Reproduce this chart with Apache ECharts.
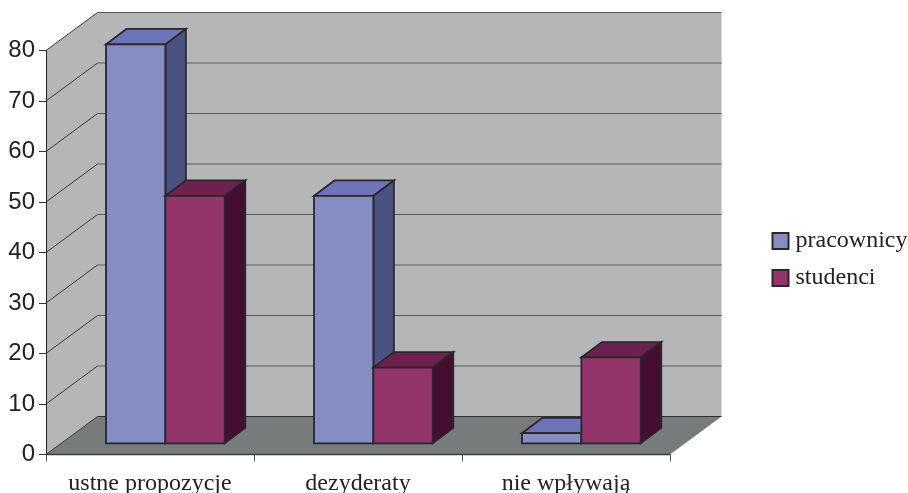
<!DOCTYPE html>
<html>
<head>
<meta charset="utf-8">
<style>html,body{margin:0;padding:0;background:#fff}#chart{width:908px;height:493px}</style>
<script src="https://cdn.jsdelivr.net/npm/echarts@6/dist/echarts.min.js"></script>
</head>
<body>
<div id="chart"></div>
<script>
const categories = ['ustne propozycje', 'dezyderaty', 'nie wpływają'];
const pracownicy = [79, 49, 2];
const studenci = [49, 15, 17];
const tickValues = [0, 10, 20, 30, 40, 50, 60, 70, 80];

// Oblique projection of the box: shift of the back plane and of the bars' front plane.
const WALL_DX = 51.5, WALL_DY = -38;
const BAR_BASE_DY = -11.2;
const BAR_DX = 20.5, BAR_DY = -15.4;
const BAR_OFFSET = 0.2885, BAR_WIDTH = 0.2855;

const EDGE = '#2b2629';
const EDGE_WIDTH = 1.8;
const WALL_FILL = '#b5b6b8';

function poly(points, fill, stroke, lineWidth) {
  return {
    type: 'polygon',
    shape: { points },
    style: { fill, stroke: stroke || 'none', lineWidth: lineWidth || 0 }
  };
}

function line(x1, y1, x2, y2, stroke, lineWidth) {
  return {
    type: 'line',
    shape: { x1, y1, x2, y2 },
    style: { stroke, lineWidth }
  };
}

// Walls, floor and grid lines of the box, one element per tick value.
function renderWall(params, api) {
  const v = api.value(0);
  const band = api.size([1, 0])[0];
  const x0 = api.coord([0, 0])[0] - band / 2;
  const x1 = api.coord([categories.length - 1, 0])[0] + band / 2;
  const y = api.coord([0, v])[1];
  const children = [];
  if (v === 0) {
    const top = api.coord([0, tickValues[tickValues.length - 1]])[1];
    children.push(
      // The side wall and the back wall share one outline, so no seam shows between them.
      poly([[x0, top], [x0 + WALL_DX, top + WALL_DY], [x1 + WALL_DX, top + WALL_DY],
            [x1 + WALL_DX, y + WALL_DY], [x0 + WALL_DX, y + WALL_DY], [x0, y]], WALL_FILL),
      poly([[x0, y], [x1, y], [x1 + WALL_DX, y + WALL_DY], [x0 + WALL_DX, y + WALL_DY]], '#787b7c')
    );
  }
  children.push(
    line(x0, y, x0 + WALL_DX, y + WALL_DY, '#3a3a3c', 1),
    line(x0 + WALL_DX, y + WALL_DY, x1 + WALL_DX, y + WALL_DY, v === 0 ? '#2f3030' : '#5a5a5c', 1.2)
  );
  return { type: 'group', children };
}

// One box-shaped bar; the series index picks its slot inside the category band.
function barRenderer(front, topFace, sideFace) {
  return function (params, api) {
    const cat = api.value(0);
    const band = api.size([1, 0])[0];
    const bandLeft = api.coord([cat, 0])[0] - band / 2;
    const slot = params.seriesIndex - 1;
    const w = band * BAR_WIDTH;
    const xl = bandLeft + band * BAR_OFFSET + slot * w;
    const xr = xl + w;
    const yb = api.coord([cat, 0])[1] + BAR_BASE_DY;
    const yt = api.coord([cat, api.value(1)])[1] + BAR_BASE_DY;
    return {
      type: 'group',
      children: [
        poly([[xl, yt], [xr, yt], [xr + BAR_DX, yt + BAR_DY], [xl + BAR_DX, yt + BAR_DY]], topFace, EDGE, EDGE_WIDTH),
        poly([[xr, yt], [xr + BAR_DX, yt + BAR_DY], [xr + BAR_DX, yb + BAR_DY], [xr, yb]], sideFace, EDGE, EDGE_WIDTH),
        poly([[xl, yt], [xr, yt], [xr, yb], [xl, yb]], front, EDGE, EDGE_WIDTH)
      ]
    };
  };
}

const chart = echarts.init(document.getElementById('chart'), null, { renderer: 'canvas' });

chart.setOption({
  animation: false,
  backgroundColor: '#ffffff',
  grid: { left: 46, top: 50.5, width: 624, height: 404, containLabel: false, outerBoundsMode: 'none' },
  legend: {
    orient: 'vertical',
    left: 771.5,
    top: 229,
    itemWidth: 16,
    itemHeight: 16,
    itemGap: 13,
    padding: 0,
    icon: 'rect',
    data: ['pracownicy', 'studenci'],
    textStyle: { fontFamily: 'Liberation Serif', fontSize: 24, color: '#222222', padding: [0, 0, 0, 2] }
  },
  xAxis: {
    type: 'category',
    data: categories,
    z: 5,
    axisLine: { show: true, lineStyle: { color: '#3c3c3c', width: 1.4 } },
    axisTick: { show: true, length: 7, lineStyle: { color: '#555555', width: 1 } },
    axisLabel: {
      fontFamily: 'Liberation Serif', fontSize: 24, color: '#222222',
      margin: 17, interval: 0
    },
    splitLine: { show: false }
  },
  yAxis: {
    type: 'value',
    min: 0,
    max: 80,
    interval: 10,
    z: 5,
    axisLine: { show: true, lineStyle: { color: '#222222', width: 1 } },
    axisTick: { show: true, length: 7, lineStyle: { color: '#333333', width: 1 } },
    axisLabel: { fontFamily: 'Liberation Sans', fontSize: 24, color: '#222222', margin: 11 },
    splitLine: { show: false }
  },
  series: [
    {
      type: 'custom',
      name: 'wall',
      silent: true,
      clip: false,
      z: 1,
      renderItem: renderWall,
      encode: { y: 0 },
      data: tickValues.map(v => [v])
    },
    {
      type: 'custom',
      name: 'pracownicy',
      clip: false,
      z: 2,
      itemStyle: { color: '#858dc3', borderColor: '#2b2629', borderWidth: 1 },
      renderItem: barRenderer('#858dc3', '#6d74b8', '#4a5283'),
      encode: { x: 0, y: 1 },
      data: pracownicy.map((v, i) => [i, v])
    },
    {
      type: 'custom',
      name: 'studenci',
      clip: false,
      z: 3,
      itemStyle: { color: '#93346a', borderColor: '#2b2629', borderWidth: 1 },
      renderItem: barRenderer('#93346a', '#6d214f', '#430e30'),
      encode: { x: 0, y: 1 },
      data: studenci.map((v, i) => [i, v])
    }
  ]
});
</script>
</body>
</html>
